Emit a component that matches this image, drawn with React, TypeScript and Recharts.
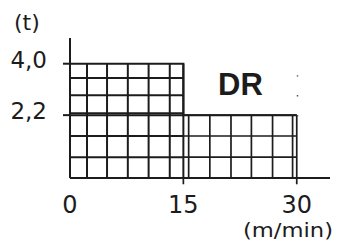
import { ComposedChart, Line, XAxis, YAxis, ReferenceLine } from 'recharts';

// speed (m/min) vs load (t)
const speeds = [0, 15, 30];
const loads = [4.0, 2.2, 2.2];
const xTicks = [0, 15, 30];
const yTicks = [2.2, 4.0];

// hand-drawn grid of the two blocks
const leftCols = [2.25, 4.9, 7.65, 10.4, 13.2, 15];
const rightCols = [15.7, 18.5, 21.3, 24, 26.8, 29.45, 30];
const leftRows = [0.73, 1.47, 2.2, 2.27, 2.9, 3.5];
const rightRows = [0.73, 1.47, 2.2];
const stubCols = [15, 30];

const data = speeds.map((s, i) => ({ speed: s, load: loads[i] }));

const INK = '#1c1c1c';
const FONT = '"DejaVu Sans", sans-serif';

export default function App() {
  return (
    <div style={{ position: 'absolute', left: 0, top: 0, width: 339, height: 246, background: '#fff' }}>
      <ComposedChart width={339} height={246} data={data} margin={{ top: 38, right: 9, bottom: 0, left: 0 }}>
        <XAxis
          dataKey="speed"
          type="number"
          domain={[0, 34.4]}
          ticks={xTicks}
          allowDataOverflow
          axisLine={{ stroke: INK, strokeWidth: 2 }}
          tickLine={false}
          tickSize={0}
          tickMargin={18}
          height={68}
          tick={{ fontSize: 24, fill: INK, fontFamily: FONT }}
        />
        <YAxis
          type="number"
          domain={[0, 4.9]}
          ticks={yTicks}
          allowDataOverflow
          width={70}
          axisLine={{ stroke: INK, strokeWidth: 2 }}
          tickLine={{ stroke: INK, strokeWidth: 2 }}
          tickSize={7}
          tickMargin={16}
          tickFormatter={(v: number) => v.toFixed(1).replace('.', ',')}
          tick={{ fontSize: 23, fill: INK, fontFamily: FONT, dy: -4 }}
        />
        {leftCols.map((x) => (
          <ReferenceLine key={'lc' + x} segment={[{ x, y: 0 }, { x, y: 4.0 }]} stroke={INK} strokeWidth={2} />
        ))}
        {rightCols.map((x) => (
          <ReferenceLine key={'rc' + x} segment={[{ x, y: 0 }, { x, y: 2.2 }]} stroke={INK} strokeWidth={1.7} />
        ))}
        {stubCols.map((x) => (
          <ReferenceLine
            key={'st' + x}
            segment={[{ x, y: -0.22 }, { x, y: 0 }]}
            stroke={INK}
            strokeWidth={1.7}
            ifOverflow="visible"
          />
        ))}
        {leftRows.map((y) => (
          <ReferenceLine key={'lr' + y} segment={[{ x: 0, y }, { x: 15, y }]} stroke={INK} strokeWidth={2} />
        ))}
        {rightRows.map((y) => (
          <ReferenceLine key={'rr' + y} segment={[{ x: 15, y }, { x: 30, y }]} stroke={INK} strokeWidth={1.7} />
        ))}
        <ReferenceLine
          segment={[{ x: 30.1, y: 2.15 }, { x: 30.1, y: 3.6 }]}
          stroke="#555"
          strokeWidth={1.5}
          strokeDasharray="1.5 18.5"
        />
        <Line
          dataKey="load"
          type="stepAfter"
          stroke={INK}
          strokeWidth={2}
          dot={false}
          isAnimationActive={false}
        />
      </ComposedChart>
      <svg
        width={339}
        height={246}
        style={{ position: 'absolute', left: 0, top: 0, pointerEvents: 'none' }}
      >
        <text x={14} y={30} fontSize={22} fill={INK} fontFamily={FONT}>(t)</text>
        <text x={218} y={95} fontSize={31} fontWeight="bold" fill={INK} fontFamily='"Liberation Sans", Arial, sans-serif'>DR</text>
        <text
          x={243}
          y={236.5}
          fontSize={20}
          fill={INK}
          fontFamily={FONT}
          textLength={90}
          lengthAdjust="spacingAndGlyphs"
        >
          (m/min)
        </text>
      </svg>
    </div>
  );
}
